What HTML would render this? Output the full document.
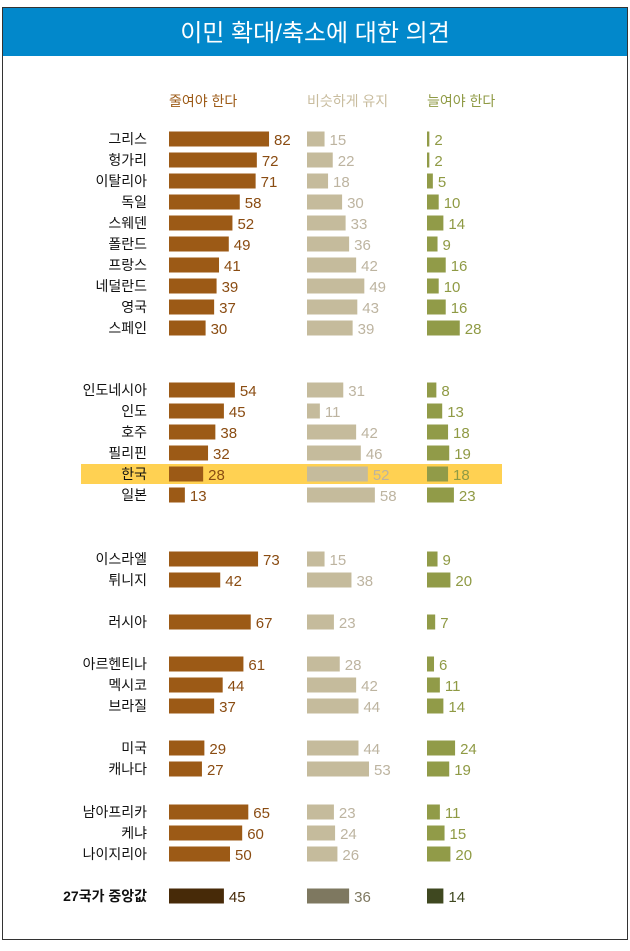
<!DOCTYPE html>
<html><head><meta charset="utf-8">
<style>
html,body{margin:0;padding:0;background:#fff;}
body{width:630px;height:946px;position:relative;overflow:hidden;font-family:"Liberation Sans","Noto Sans CJK KR",sans-serif;}
svg text{font-family:"Liberation Sans","Noto Sans CJK KR",sans-serif;}
</style></head>
<body>
<svg id="chart" width="630" height="946" xmlns="http://www.w3.org/2000/svg">
<rect x="2.5" y="7.5" width="625" height="932" fill="#fff" stroke="#333" stroke-width="1"/>
<rect x="3" y="8" width="624" height="48" fill="#0288cb"/>
<text x="315" y="41" text-anchor="middle" fill="#fff" font-size="24">이민 확대/축소에 대한 의견</text>
<text x="169" y="106" fill="#9c5a16" font-size="14">줄여야 한다</text>
<text x="307" y="106" fill="#c8bc9e" font-size="14">비슷하게 유지</text>
<text x="427" y="106" fill="#8f9a44" font-size="14">늘여야 한다</text>
<rect x="81" y="464" width="421" height="20" fill="#ffd152"/>
<g id="rows"></g>
</svg>
<script>
const countries=["그리스","헝가리","이탈리아","독일","스웨덴","폴란드","프랑스","네덜란드","영국","스페인","인도네시아","인도","호주","필리핀","한국","일본","이스라엘","튀니지","러시아","아르헨티나","멕시코","브라질","미국","캐나다","남아프리카","케냐","나이지리아","27국가 중앙값"];
const reduceVals=[82,72,71,58,52,49,41,39,37,30,54,45,38,32,28,13,73,42,67,61,44,37,29,27,65,60,50,45];
const keepVals=[15,22,18,30,33,36,42,49,43,39,31,11,42,46,52,58,15,38,23,28,42,44,44,53,23,24,26,36];
const increaseVals=[2,2,5,10,14,9,16,10,16,28,8,13,18,19,18,23,9,20,7,6,11,14,24,19,11,15,20,14];
const rowCenters=[139,160,181,202,223,244,265,286,307,328,390,411,432,453,474,495,559,580,622,664,685,706,748,769,812,833,854,896];

const NS="http://www.w3.org/2000/svg";
const g=document.getElementById('rows');
const cols=[
 {vals:reduceVals,x0:169,scale:1.22,fill:"#9c5a16",txt:"#8a4c12",mFill:"#472a08",mTxt:"#472a08",name:"reduce"},
 {vals:keepVals,x0:307,scale:1.17,fill:"#c5bb9c",txt:"#bdb4a0",mFill:"#7e7860",mTxt:"#7e7860",name:"keep"},
 {vals:increaseVals,x0:427,scale:1.17,fill:"#919b48",txt:"#8f9a44",mFill:"#3f4820",mTxt:"#3f4820",name:"increase"}
];
function xPos(c,v){return c.x0+v*c.scale;}
countries.forEach((name,i)=>{
  const cy=rowCenters[i];
  const median=i===countries.length-1;
  const lab=document.createElementNS(NS,'text');
  
  
  lab.setAttribute('x',147);lab.setAttribute('y',cy+5);
  lab.setAttribute('text-anchor','end');lab.setAttribute('font-size','14');
  lab.setAttribute('fill','#111');
  if(median)lab.setAttribute('font-weight','bold');
  lab.textContent=name;g.appendChild(lab);
  cols.forEach(c=>{
    const v=c.vals[i];
    const w=Math.max(xPos(c,v)-c.x0,2);
    const r=document.createElementNS(NS,'rect');
    
    
    r.setAttribute('x',c.x0);r.setAttribute('y',cy-7.5);
    r.setAttribute('width',w);r.setAttribute('height',15);
    r.setAttribute('fill',median?c.mFill:c.fill);
    g.appendChild(r);
    const t=document.createElementNS(NS,'text');
    
    
    t.setAttribute('x',c.x0+w+5);t.setAttribute('y',cy+6);
    t.setAttribute('font-size','15');
    t.setAttribute('fill',median?c.mTxt:c.txt);
    t.textContent=v;g.appendChild(t);
  });
});
</script>
</body></html>
